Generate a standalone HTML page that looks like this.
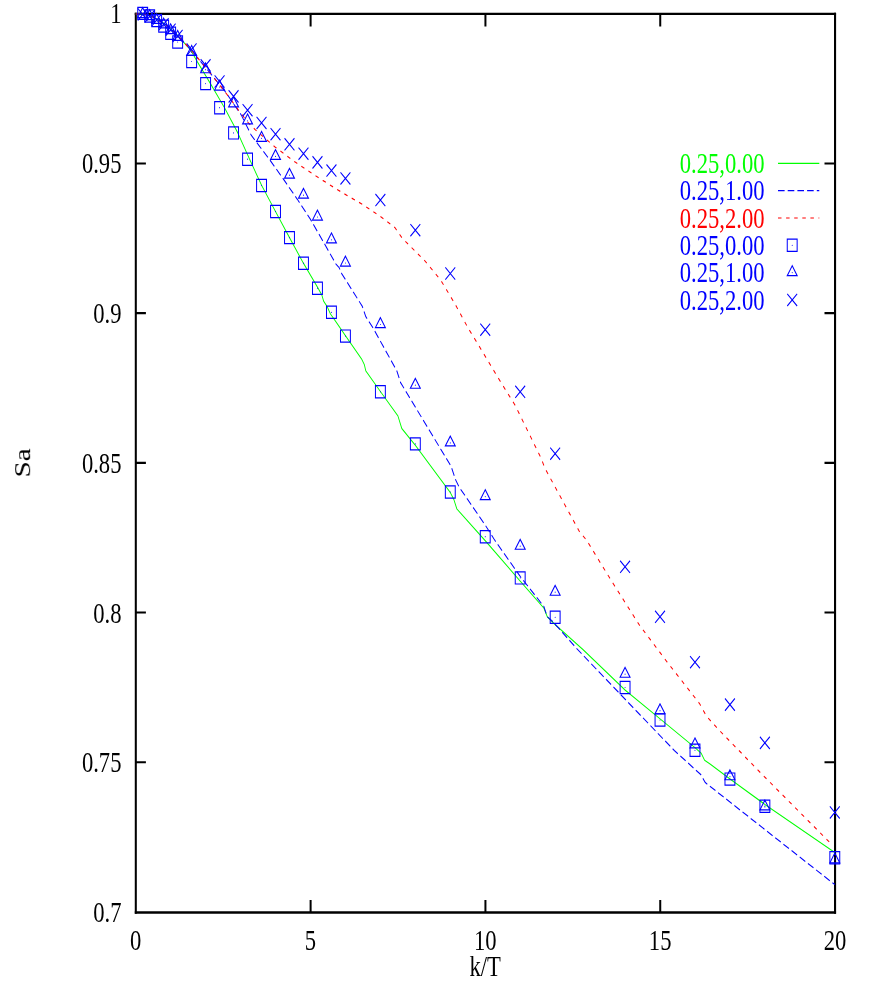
<!DOCTYPE html>
<html><head><meta charset="utf-8"><title>Sa vs k/T</title>
<style>
html,body{margin:0;padding:0;background:#fff;}
svg{display:block;}
text{font-family:"Liberation Serif",serif;font-size:29.2px;}
</style></head><body>
<svg width="872" height="981" viewBox="0 0 872 981">
<rect width="872" height="981" fill="#fff"/>

<g fill="none"><path d="M135.8 12.85V913.85" stroke="#000" stroke-width="2.05"/>
<path d="M835.05 12.85V913.85" stroke="#000" stroke-width="2.1"/>
<path d="M134.8 13.85H836.05" stroke="#000" stroke-width="2.05"/>
<path d="M134.8 912.6H836.05" stroke="#000" stroke-width="2.5"/>
<path d="M135.8 163.42H145.9M835.05 163.42H824.5M135.8 313.14H145.9M835.05 313.14H824.5M135.8 462.86H145.9M835.05 462.86H824.5M135.8 612.58H145.9M835.05 612.58H824.5M135.8 762.3H145.9M835.05 762.3H824.5" stroke="#000" stroke-width="2.05"/>
<path d="M310.61 912.6V899.9M310.61 13.85V26.4M485.43 912.6V899.9M485.43 13.85V26.4M660.24 912.6V899.9M660.24 13.85V26.4" stroke="#000" stroke-width="2"/></g>
<g transform="scale(1 1.23)" fill="none">
<polyline points="135.7,11.38 142.69,11.38 149.68,12.63 156.67,15.51 163.66,18.96 170.65,23.46 177.65,28.91 190.5,40.49 197.4,50.33 210.6,68.13 224.8,87.97 237.8,108.05 249.5,129.35 261.7,150.81 275.5,171.95 289.5,193.17 303.4,213.98 317.6,233.66 321.9,239.92 323.6,244.8 327,249.02 330.5,255.28 334.8,260.24 345.4,272.85 361.5,291.71 364.4,296.59 365.8,301.54 380.4,318.29 397.9,338.13 401.8,348.37 415.6,362.36 450.4,400.57 453.9,406.18 456.8,413.66 485.5,439.84 520.4,472.6 543.9,494.47 547.3,501.46 554.2,507.07 582.9,528.05 625.3,561.14 660.1,584.47 695,607.8 701.2,612.44 704.6,618.05 710.4,621.38 730,633.41 764.9,653.98 834.8,693.09" stroke="#00ff00" stroke-width="0.9" stroke-linejoin="round"/>
<polyline points="135.7,11.38 142.69,11.38 149.68,12.63 156.67,15.51 163.66,18.96 170.65,23.46 177.65,28.91 191.63,41.12 205.61,54.95 224.8,73.98 241.3,93.5 251.4,110.16 270.6,130.89 283.7,145.93 297.5,162.2 310.5,178.37 324.3,197.97 336,214.8 339.1,217.56 341.7,222.44 362.3,249.02 365.8,257.4 373.5,267.24 396.8,301.54 400.6,311.06 407.5,320.41 451.1,379.11 455.7,390.33 459.1,395.93 485.5,427.24 494.6,439.02 520.4,468.86 543.9,493.09 547.3,501.46 551.9,504.72 558.8,510.81 576,526.67 619.8,563.98 674.3,610.16 700.7,629.67 705.3,636.26 764.9,674.47 834.8,719.19" stroke="#0000ff" stroke-width="0.95" stroke-dasharray="6.6 3.1"/>
<polyline points="135.7,11.38 142.69,11.38 149.68,12.63 156.67,15.51 163.66,18.96 170.65,23.46 177.65,28.91 191.63,41.12 205.61,54.95 210.3,59.43 227.5,77.32 238.5,89.59 248.2,99.67 255,105.28 275,119.43 295.2,131.79 316,143.17 336.7,153.82 343.4,157.15 363,166.42 380,175.77 395,185.12 402,193.5 424.9,212.11 440.9,227.97 454.7,246.67 468.4,267.15 477.6,279.27 497,305.69 515.3,329.76 540.6,371.71 545.1,380.98 579.5,432.28 586.5,439.02 611.7,472.6 639.3,508.05 666.8,537.89 699.5,571.95 706.4,582.2 719.5,593.98 764.9,631.87 832.6,687.24" stroke="#ff0000" stroke-width="0.95" stroke-dasharray="3.5 4.6"/>
<path d="M137.74 5.94h9.9v9.9h-9.9zM144.73 8.06h9.9v9.9h-9.9zM151.72 11.8h9.9v9.9h-9.9zM158.71 16.27h9.9v9.9h-9.9zM165.7 22.12h9.9v9.9h-9.9zM172.7 29.2h9.9v9.9h-9.9zM186.68 45.05h9.9v9.9h-9.9zM200.66 63.02h9.9v9.9h-9.9zM214.64 82.61h9.9v9.9h-9.9zM228.62 103.1h9.9v9.9h-9.9zM242.61 124.48h9.9v9.9h-9.9zM256.59 145.86h9.9v9.9h-9.9zM270.57 167h9.9v9.9h-9.9zM284.55 188.22h9.9v9.9h-9.9zM298.53 209.03h9.9v9.9h-9.9zM312.52 229.36h9.9v9.9h-9.9zM326.5 248.95h9.9v9.9h-9.9zM340.48 268.3h9.9v9.9h-9.9zM375.44 313.59h9.9v9.9h-9.9zM410.39 355.94h9.9v9.9h-9.9zM445.34 395.05h9.9v9.9h-9.9zM480.3 431.39h9.9v9.9h-9.9zM515.25 464.89h9.9v9.9h-9.9zM550.21 496.92h9.9v9.9h-9.9zM620.12 553.99h9.9v9.9h-9.9zM655.07 580.42h9.9v9.9h-9.9zM690.03 605.05h9.9v9.9h-9.9zM724.98 628.46h9.9v9.9h-9.9zM759.94 650.5h9.9v9.9h-9.9zM829.85 692.45h9.9v9.9h-9.9zM787.25 194.48h9.9v9.9h-9.9z" stroke="#0000ff" stroke-width="1.0"/>
<path d="M142.69 6.24L137.74 14.26L147.64 14.26zM149.68 7.87L144.73 15.89L154.63 15.89zM156.67 11.04L151.72 19.06L161.62 19.06zM163.66 14.7L158.71 22.72L168.61 22.72zM170.65 19.42L165.7 27.43L175.6 27.43zM177.65 24.78L172.7 32.8L182.6 32.8zM191.63 36.98L186.68 45L196.58 45zM205.61 51.12L200.66 59.14L210.56 59.14zM219.59 65.19L214.64 73.21L224.54 73.21zM233.57 78.85L228.62 86.87L238.52 86.87zM247.56 92.67L242.61 100.69L252.51 100.69zM261.54 106.9L256.59 114.91L266.49 114.91zM275.52 121.61L270.57 129.63L280.47 129.63zM289.5 136.9L284.55 144.91L294.45 144.91zM303.48 153.16L298.53 161.17L308.43 161.17zM317.47 170.88L312.52 178.9L322.42 178.9zM331.45 189.42L326.5 197.43L336.4 197.43zM345.43 208.28L340.48 216.3L350.38 216.3zM380.38 258.28L375.44 266.3L385.33 266.3zM415.34 307.63L410.39 315.65L420.29 315.65zM450.29 354.54L445.34 362.56L455.24 362.56zM485.25 398.2L480.3 406.21L490.2 406.21zM520.2 438.52L515.25 446.54L525.15 446.54zM555.16 475.92L550.21 483.94L560.11 483.94zM625.07 542.59L620.12 550.61L630.02 550.61zM660.02 572.26L655.07 580.28L664.97 580.28zM694.98 599.98L690.03 608L699.93 608zM729.93 625.92L724.98 633.94L734.88 633.94zM764.89 650.47L759.94 658.49L769.84 658.49zM834.8 693.48L829.85 701.5L839.75 701.5zM792.2 216.08L787.25 224.1L797.15 224.1z" stroke="#0000ff" stroke-width="1.0"/>
<path d="M137.74 6.76L147.64 16.66M137.74 16.66L147.64 6.76M144.73 8.38L154.63 18.28M144.73 18.28L154.63 8.38M151.72 11.31L161.62 21.21M151.72 21.21L161.62 11.31M158.71 14.81L168.61 24.71M158.71 24.71L168.61 14.81M165.7 19.2L175.6 29.1M165.7 29.1L175.6 19.2M172.7 24.24L182.6 34.14M172.7 34.14L182.6 24.24M186.68 35.29L196.58 45.19M186.68 45.19L196.58 35.29M200.66 48.14L210.56 58.04M200.66 58.04L210.56 48.14M214.64 61.31L224.54 71.21M214.64 71.21L224.54 61.31M228.62 73.42L238.52 83.32M228.62 83.32L238.52 73.42M242.61 84.64L252.51 94.54M242.61 94.54L252.51 84.64M256.59 94.97L266.49 104.87M256.59 104.87L266.49 94.97M270.57 104.16L280.47 114.06M270.57 114.06L280.47 104.16M284.55 112.37L294.45 122.27M284.55 122.27L294.45 112.37M298.53 120.01L308.43 129.91M298.53 129.91L308.43 120.01M312.52 127.08L322.42 136.98M312.52 136.98L322.42 127.08M326.5 133.75L336.4 143.65M326.5 143.65L336.4 133.75M340.48 140.09L350.38 149.99M340.48 149.99L350.38 140.09M375.44 157.73L385.33 167.63M375.44 167.63L385.33 157.73M410.39 182.2L420.29 192.1M410.39 192.1L420.29 182.2M445.34 217.41L455.24 227.31M445.34 227.31L455.24 217.41M480.3 263.1L490.2 273M480.3 273L490.2 263.1M515.25 313.59L525.15 323.49M515.25 323.49L525.15 313.59M550.21 363.91L560.11 373.81M550.21 373.81L560.11 363.91M620.12 455.86L630.02 465.76M620.12 465.76L630.02 455.86M655.07 496.51L664.97 506.41M655.07 506.41L664.97 496.51M690.03 533.42L699.93 543.32M690.03 543.32L699.93 533.42M724.98 567.9L734.88 577.8M724.98 577.8L734.88 567.9M759.94 599.03L769.84 608.93M759.94 608.93L769.84 599.03M829.85 655.54L839.75 665.44M829.85 665.44L839.75 655.54M787.25 238.87L797.15 248.77M787.25 248.77L797.15 238.87" stroke="#0000ff" stroke-width="1.0"/>
<path d="M142.69 10.89h0.01M149.68 13.01h0.01M156.67 16.75h0.01M163.66 21.22h0.01M170.65 27.07h0.01M177.65 34.15h0.01M191.63 50h0.01M205.61 67.97h0.01M219.59 87.56h0.01M233.57 108.05h0.01M247.56 129.43h0.01M261.54 150.81h0.01M275.52 171.95h0.01M289.5 193.17h0.01M303.48 213.98h0.01M317.47 234.31h0.01M331.45 253.9h0.01M345.43 273.25h0.01M380.38 318.54h0.01M415.34 360.89h0.01M450.29 400h0.01M485.25 436.34h0.01M520.2 469.84h0.01M555.16 501.87h0.01M625.07 558.94h0.01M660.02 585.37h0.01M694.98 610h0.01M729.93 633.41h0.01M764.89 655.45h0.01M834.8 697.4h0.01M142.69 11.79h0.01M149.68 13.41h0.01M156.67 16.59h0.01M163.66 20.24h0.01M170.65 24.96h0.01M177.65 30.33h0.01M191.63 42.52h0.01M205.61 56.67h0.01M219.59 70.73h0.01M233.57 84.39h0.01M247.56 98.21h0.01M261.54 112.44h0.01M275.52 127.15h0.01M289.5 142.44h0.01M303.48 158.7h0.01M317.47 176.42h0.01M331.45 194.96h0.01M345.43 213.82h0.01M380.38 263.82h0.01M415.34 313.17h0.01M450.29 360.08h0.01M485.25 403.74h0.01M520.2 444.07h0.01M555.16 481.46h0.01M625.07 548.13h0.01M660.02 577.8h0.01M694.98 605.53h0.01M729.93 631.46h0.01M764.89 656.02h0.01M834.8 699.02h0.01M792.2 199.43h0.01M792.2 221.63h0.01" stroke="#0000ff" stroke-width="0.95" stroke-linecap="round"/>
<path d="M778 132.85H819.3" stroke="#00ff00" stroke-width="0.9"/>
<path d="M778 155.04H819.3" stroke="#0000ff" stroke-width="0.95" stroke-dasharray="6.6 3.1"/>
<path d="M778 177.24H819.3" stroke="#ff0000" stroke-width="0.95" stroke-dasharray="3.5 4.6"/>
</g>
<g opacity="0.999">
<text transform="translate(764.6 173) scale(0.775 1)" text-anchor="end" fill="#00ff00">0.25,0.00</text>
<text transform="translate(764.6 200.3) scale(0.775 1)" text-anchor="end" fill="#0000ff">0.25,1.00</text>
<text transform="translate(764.6 227.6) scale(0.775 1)" text-anchor="end" fill="#ff0000">0.25,2.00</text>
<text transform="translate(764.6 254.9) scale(0.775 1)" text-anchor="end" fill="#0000ff">0.25,0.00</text>
<text transform="translate(764.6 282.2) scale(0.775 1)" text-anchor="end" fill="#0000ff">0.25,1.00</text>
<text transform="translate(764.6 309.5) scale(0.775 1)" text-anchor="end" fill="#0000ff">0.25,2.00</text>
<text transform="translate(121.5 22.8) scale(0.775 1)" text-anchor="end" fill="#000">1</text>
<text transform="translate(121.5 172.92) scale(0.775 1)" text-anchor="end" fill="#000">0.95</text>
<text transform="translate(121.5 322.79) scale(0.775 1)" text-anchor="end" fill="#000">0.9</text>
<text transform="translate(121.5 472.66) scale(0.775 1)" text-anchor="end" fill="#000">0.85</text>
<text transform="translate(121.5 622.53) scale(0.775 1)" text-anchor="end" fill="#000">0.8</text>
<text transform="translate(121.5 772.4) scale(0.775 1)" text-anchor="end" fill="#000">0.75</text>
<text transform="translate(121.5 922.27) scale(0.775 1)" text-anchor="end" fill="#000">0.7</text>
<text transform="translate(135.7 949.7) scale(0.775 1)" text-anchor="middle" fill="#000">0</text>
<text transform="translate(310.51 949.7) scale(0.775 1)" text-anchor="middle" fill="#000">5</text>
<text transform="translate(485.32 949.7) scale(0.775 1)" text-anchor="middle" fill="#000">10</text>
<text transform="translate(660.14 949.7) scale(0.775 1)" text-anchor="middle" fill="#000">15</text>
<text transform="translate(834.95 949.7) scale(0.775 1)" text-anchor="middle" fill="#000">20</text>
<text transform="translate(485.2 976.3) scale(0.775 1)" text-anchor="middle" fill="#000">k/T</text>
<text transform="translate(30.3 463) scale(0.775 1) rotate(-90)" text-anchor="middle">Sa</text>
</g>
</svg></body></html>
